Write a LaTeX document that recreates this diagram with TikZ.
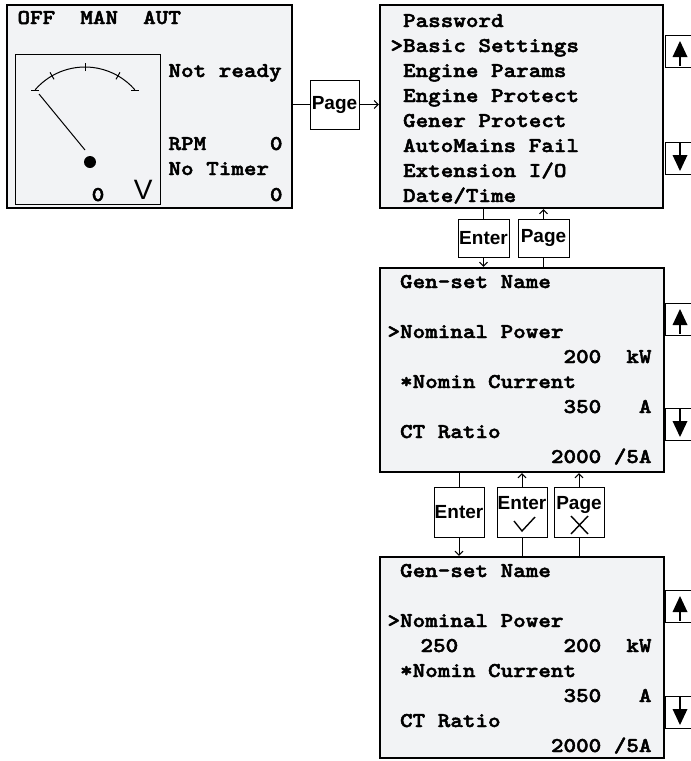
\documentclass[tikz,border=0pt]{standalone}
\usepackage{fontspec}
\setmainfont{Liberation Sans}
\setsansfont{Liberation Sans}
\newfontfamily\lcdfont[FakeStretch=1.14, FakeBold=2.2]{lmmonolt10-bold.otf}
\usetikzlibrary{arrows.meta}
\definecolor{lcdgray}{HTML}{F2F3F5}
\tikzset{
  screen/.style={draw, fill=lcdgray, line width=2.2pt, inner sep=0pt},
  key/.style={draw, fill=white, line width=1pt, inner sep=0pt,
    font=\sffamily\bfseries\fontsize{19}{20}\selectfont},
  keytext/.style={inner sep=0pt, anchor=base,
    font=\sffamily\bfseries\fontsize{19}{20}\selectfont},
  lcd/.style={inner sep=0pt, anchor=base west,
    font=\lcdfont\fontsize{21}{25}\selectfont},
  lcdr/.style={lcd, anchor=base east},
  flow/.style={line width=1pt},
  >={Straight Barb[length=4pt,width=8pt]},
}
\begin{document}
\begin{tikzpicture}[x=1pt, y=1pt, line width=1pt]
  \useasboundingbox (0,0) rectangle (691,-761);

  % Screens
  \node[screen, minimum width=285, minimum height=203] (status) at (149.5,-106.5) {};
  \node[screen, minimum width=283, minimum height=203] (menu) at (521.5,-106.5) {};
  \node[screen, minimum width=284, minimum height=204] (params) at (522,-370) {};
  \node[screen, minimum width=284, minimum height=201] (edit) at (522,-657.5) {};

  % Scroll keys at the right edge
  \foreach \t/\b in {35/142, 303/408, 590/696} {
    \draw[fill=white] (700,-\t) -| (665,-\t-32) -- (700,-\t-32);
    \draw[line width=2pt] (680,-\t-31) -- (680,-\t-20);
    \fill (672.5,-\t-22) -- (680,-\t-6) -- (687.5,-\t-22) -- cycle;
    \draw[fill=white] (700,-\b) -| (665,-\b-32) -- (700,-\b-32);
    \draw[line width=2pt] (680,-\b) -- (680,-\b-15);
    \fill (672.5,-\b-13) -- (680,-\b-29) -- (687.5,-\b-13) -- cycle;
  }

  % Status screen
  \node[lcd] (mode) at (17,-24) {OFF\ \ MAN\ \ AUT};
  \node[lcd] (state) at (168,-77) {Not ready};
  \node[lcd] (rpm) at (168,-150) {RPM};
  \node[lcdr] (rpmval) at (283,-150) {0};
  \node[lcd] (timer) at (168,-175) {No Timer};
  \node[lcdr] (timerval) at (283,-201) {0};

  % Voltmeter
  \draw (15,-54) rectangle (160,-204);
  \draw (85,-133) ++(139:66) arc[start angle=139, end angle=41, radius=66];
  \foreach \a in {60,90,120}
    \draw ([shift={(\a:62)}]85,-133) -- ([shift={(\a:70)}]85,-133);
  \draw (31,-90) -- (39,-90);
  \draw (131,-90) -- (139,-90);
  \draw (39,-94) -- (85,-150);
  \fill (90,-162) circle (6);
  \node[lcd, anchor=base] (volt) at (98,-201) {0};
  \node[inner sep=0pt, anchor=base east, font=\fontsize{28}{30}\selectfont] (unit) at (153,-199) {V};

  % Menu screen
  \foreach \txt [count=\i from 0] in {\phantom{>}Password, >Basic Settings,
      \phantom{>}Engine Params, \phantom{>}Engine Protect, \phantom{>}Gener Protect,
      \phantom{>}AutoMains Fail, \phantom{>}Extension I/O, \phantom{>}Date/Time}
    \node[lcd] (item\i) at (390,{-27-25*\i}) {\txt};

  % Setting screens
  \foreach \scr/\y in {params/288, edit/577} {
    \node[lcd] (\scr-name) at (387,-\y) {\phantom{>}Gen-set Name};
    \node[lcd] (\scr-power) at (387,-\y-50) {>Nominal Power};
    \node[lcdr] (\scr-kw) at (652,-\y-75) {200\ \ kW};
    \node[lcd] (\scr-current) at (387,-\y-100) {\phantom{>}*Nomin Current};
    \node[lcdr] (\scr-amp) at (652,-\y-125) {350\ \ \ A};
    \node[lcd] (\scr-ct) at (387,-\y-150) {\phantom{>}CT Ratio};
    \node[lcdr] (\scr-ratio) at (652,-\y-175) {2000 /5A};
  }
  \node[lcd] (newval) at (420,-652) {250};

  % Keys
  \node[key, minimum width=49, minimum height=49] (page0) at (334.5,-104.5) {Page};
  \node[key, minimum width=51, minimum height=38] (enter1) at (483.5,-238) {Enter};
  \node[key, minimum width=51, minimum height=38] (page1) at (543.5,-238) {Page};
  \node[key, minimum width=50, minimum height=50] (enter2) at (459,-512) {Enter};
  \node[key, minimum width=50, minimum height=50] (ok) at (522,-512) {};
  \node[key, minimum width=50, minimum height=50] (cancel) at (579,-512) {};
  \node[keytext] (oktext) at (522,-509) {Enter};
  \node[keytext] (canceltext) at (579,-509) {Page};
  \draw[line width=1.4pt] (514,-521) -- (522,-531) -- (535,-517);
  \draw[line width=1.4pt] (571,-516) -- (588,-534) (571,-534) -- (588,-516);

  % Connectors
  \draw[flow] (status.east |- page0) -- (page0);
  \draw[flow, ->] (page0) -- (page0 -| menu.west);
  \draw[flow] (enter1 |- menu.south) -- (enter1);
  \draw[flow, ->] (enter1) -- (enter1 |- params.north);
  \draw[flow] (page1 |- params.north) -- (page1);
  \draw[flow, ->] (page1) -- (page1 |- menu.south);
  \draw[flow] (enter2 |- params.south) -- (enter2);
  \draw[flow, ->] (enter2) -- (enter2 |- edit.north);
  \draw[flow] (ok |- edit.north) -- (ok);
  \draw[flow, ->] (ok) -- (ok |- params.south);
  \draw[flow] (cancel |- edit.north) -- (cancel);
  \draw[flow, ->] (cancel) -- (cancel |- params.south);
\end{tikzpicture}
\end{document}
